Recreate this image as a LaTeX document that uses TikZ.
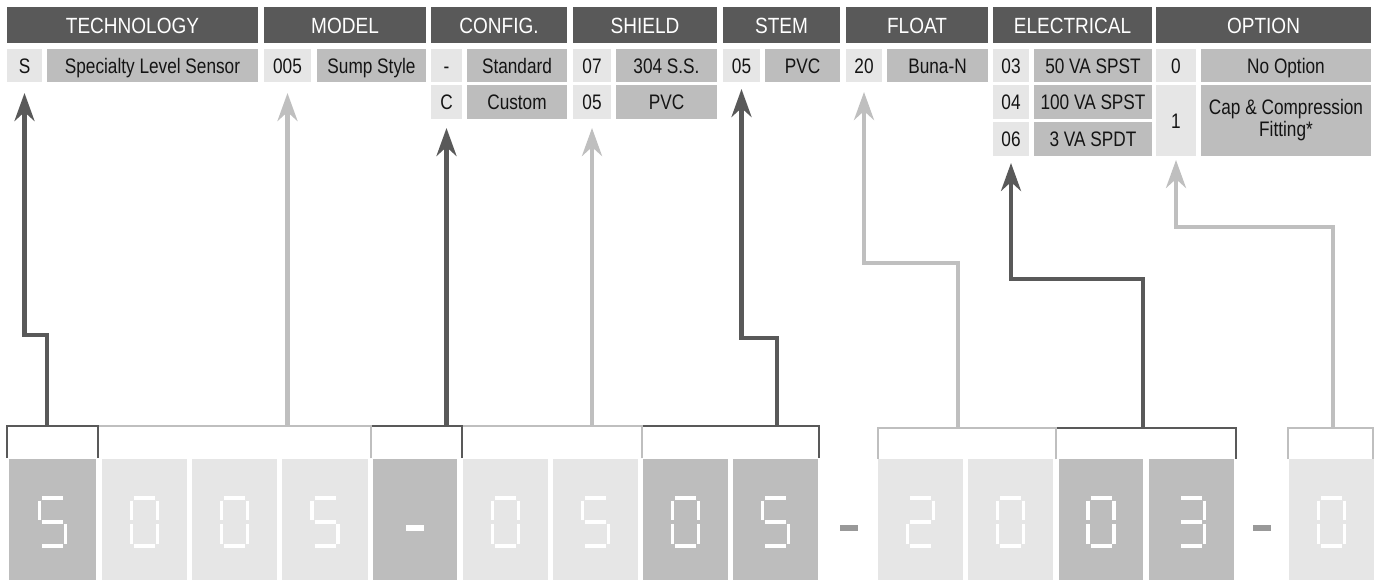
\documentclass[tikz,border=0pt]{standalone}
\usepackage{fontspec}
\setmainfont{Liberation Sans}[FakeStretch=0.82]
\newfontfamily\hdrfont{Liberation Sans}[FakeStretch=0.865]
\usetikzlibrary{arrows.meta}
\definecolor{hdr}{HTML}{595959}
\definecolor{cl}{HTML}{E6E6E6}
\definecolor{cd}{HTML}{BDBDBD}
\definecolor{ad}{HTML}{595959}
\definecolor{al}{HTML}{BFBFBF}
\definecolor{dashc}{HTML}{999999}
\definecolor{txt}{HTML}{141414}
\newcommand\cellbox[7]{\node[#6, minimum width={(#4-#2)*1pt}, minimum height={(#5-#3)*1pt}] (#1) at ({(#2+#4)/2},{(#3+#5)/2}) {#7};}
\newcommand\sgA{\draw[seg] (-10.5,-21.5) -- (10.5,-21.5);}
\newcommand\sgB{\draw[seg] (13,-19) -- (13,0.5);}
\newcommand\sgC{\draw[seg] (13,4.5) -- (13,24);}
\newcommand\sgD{\draw[seg] (-10.5,26.5) -- (10.5,26.5);}
\newcommand\sgE{\draw[seg] (-13,4.5) -- (-13,24);}
\newcommand\sgF{\draw[seg] (-13,-19) -- (-13,0.5);}
\newcommand\sgG{\draw[seg] (-10.5,2.5) -- (10.5,2.5);}
\newcommand\dgZero[1]{\begin{scope}[shift={(#1.center)}]\sgA\sgB\sgC\sgD\sgE\sgF\end{scope}}
\newcommand\dgFive[1]{\begin{scope}[shift={(#1.center)}]\sgA\sgF\sgG\sgC\sgD\end{scope}}
\newcommand\dgTwo[1]{\begin{scope}[shift={(#1.center)}]\sgA\sgB\sgG\sgE\sgD\end{scope}}
\newcommand\dgThree[1]{\begin{scope}[shift={(#1.center)}]\sgA\sgB\sgG\sgC\sgD\end{scope}}
\newcommand\dgDash[1]{\begin{scope}[shift={(#1.center)}]\fill[white] (-9,5.5) rectangle (9,11.5);\end{scope}}
\begin{document}
\begin{tikzpicture}[x=1pt,y=-1pt,
  base/.style={inner sep=0pt, outer sep=0pt, align=center, text=txt, font=\fontsize{21}{22}\selectfont},
  one/.style={text height=15pt, text depth=0pt},
  hd/.style={base, fill=hdr, text=white, font=\hdrfont\fontsize{22}{24}\selectfont, text height=16pt, text depth=0pt},
  lc/.style={base, one, fill=cl},
  dc/.style={base, one, fill=cd},
  dc2/.style={base, fill=cd},
  lc2/.style={base, fill=cl, text height=15pt, text depth=0pt},
  seg/.style={white, line width=3.4pt},
  conn/.style={line width=4.3pt, -{Stealth[length=28pt,width=20pt,inset=9pt]}},
  darkarr/.style={conn, draw=ad},
  lightarr/.style={conn, draw=al},
  brkd/.style={draw=ad, line width=2.6pt},
  brkl/.style={draw=al, line width=2.6pt}]
\useasboundingbox (0,0) rectangle (1376,581);
% headers
\cellbox{hT}{7}{7}{258}{43}{hd}{TECHNOLOGY}
\cellbox{hM}{264}{7}{426}{43}{hd}{MODEL}
\cellbox{hC}{431}{7}{567}{43}{hd}{CONFIG.}
\cellbox{hS}{573}{7}{717}{43}{hd}{SHIELD}
\cellbox{hSt}{723}{7}{840}{43}{hd}{STEM}
\cellbox{hF}{846}{7}{988}{43}{hd}{FLOAT}
\cellbox{hE}{993}{7}{1152}{43}{hd}{ELECTRICAL}
\cellbox{hO}{1156}{7}{1371}{43}{hd}{OPTION}
% row 1
\cellbox{cS}{7}{49}{42}{82}{lc}{S}
\cellbox{dS}{47}{49}{258}{82}{dc}{Specialty Level Sensor}
\cellbox{cM}{264}{49}{311}{82}{lc}{005}
\cellbox{dM}{317}{49}{426}{82}{dc}{Sump Style}
\cellbox{cC1}{431}{49}{462}{82}{lc}{-}
\cellbox{dC1}{467}{49}{567}{82}{dc}{Standard}
\cellbox{cSh1}{573}{49}{611}{82}{lc}{07}
\cellbox{dSh1}{616}{49}{717}{82}{dc}{304 S.S.}
\cellbox{cSt}{723}{49}{760}{82}{lc}{05}
\cellbox{dSt}{765}{49}{840}{82}{dc}{PVC}
\cellbox{cF}{846}{49}{882}{82}{lc}{20}
\cellbox{dF}{887}{49}{988}{82}{dc}{Buna-N}
\cellbox{cE1}{993}{49}{1029}{82}{lc}{03}
\cellbox{dE1}{1034}{49}{1152}{82}{dc}{50 VA SPST}
\cellbox{cO1}{1156}{49}{1196}{82}{lc}{0}
\cellbox{dO1}{1201}{49}{1371}{82}{dc}{No Option}
% row 2
\cellbox{cC2}{431}{85}{462}{119}{lc}{C}
\cellbox{dC2}{467}{85}{567}{119}{dc}{Custom}
\cellbox{cSh2}{573}{85}{611}{119}{lc}{05}
\cellbox{dSh2}{616}{85}{717}{119}{dc}{PVC}
\cellbox{cE2}{993}{85}{1029}{119}{lc}{04}
\cellbox{dE2}{1034}{85}{1152}{119}{dc}{100 VA SPST}
\cellbox{cO2}{1156}{85}{1196}{156}{lc2}{1}
\cellbox{dO2}{1201}{85}{1371}{156}{dc2}{Cap \& Compression\\Fitting*}
% row 3
\cellbox{cE3}{993}{122}{1029}{156}{lc}{06}
\cellbox{dE3}{1034}{122}{1152}{156}{dc}{3 VA SPDT}
% brackets (right to left so right edges show)
\draw[brkl] (1288,459) -- (1288,428) -- (1373,428) -- (1373,459);
\draw[brkd] (1056,459) -- (1056,428) -- (1236,428) -- (1236,459);
\draw[brkl] (878,459) -- (878,428) -- (1056,428) -- (1056,459);
\draw[brkd] (642,458) -- (642,426) -- (819,426) -- (819,458);
\draw[brkl] (462,458) -- (462,426) -- (642,426) -- (642,458);
\draw[brkd] (371,458) -- (371,426) -- (462,426) -- (462,458);
\draw[brkl] (98,458) -- (98,426) -- (371,426) -- (371,458);
\draw[brkd] (7,458) -- (7,426) -- (98,426) -- (98,458);
\coordinate (bS) at (47,426);
\coordinate (bM) at (287.5,426);
\coordinate (bC) at (446.5,426);
\coordinate (bSh) at (592,426);
\coordinate (bSt) at (777,426);
\coordinate (bF) at (958,428);
\coordinate (bE) at (1143,428);
\coordinate (bO) at (1333,428);
% connectors
\draw[darkarr] (bS) -- (47,335) -| ([yshift=-11pt]cS.south);
\draw[lightarr] (bM) -- ([yshift=-11pt]cM.south);
\draw[darkarr] (bC) -- ([yshift=-9pt]cC2.south);
\draw[lightarr] (bSh) -- ([yshift=-9pt]cSh2.south);
\draw[darkarr] (bSt) -- (777,338) -| ([yshift=-7pt]cSt.south);
\draw[lightarr] (bF) -- (958,263) -| ([yshift=-10pt]cF.south);
\draw[darkarr] (bE) -- (1143,279) -| ([yshift=-7pt]cE3.south);
\draw[lightarr] (bO) -- (1333,227) -| ([yshift=-4pt]cO2.south);
% digit boxes
\cellbox{g1}{9}{459}{96}{580}{dc}{}
\cellbox{g2}{102}{459}{187}{580}{lc}{}
\cellbox{g3}{192}{459}{277}{580}{lc}{}
\cellbox{g4}{282}{459}{368}{580}{lc}{}
\cellbox{g5}{373}{459}{457}{580}{dc}{}
\cellbox{g6}{463}{459}{548}{580}{lc}{}
\cellbox{g7}{553}{459}{638}{580}{lc}{}
\cellbox{g8}{643}{459}{728}{580}{dc}{}
\cellbox{g9}{733}{459}{818}{580}{dc}{}
\cellbox{g10}{878}{459}{963}{580}{lc}{}
\cellbox{g11}{968}{459}{1053}{580}{lc}{}
\cellbox{g12}{1059}{459}{1143}{580}{dc}{}
\cellbox{g13}{1149}{459}{1234}{580}{dc}{}
\cellbox{g14}{1289}{459}{1374}{580}{lc}{}
\dgFive{g1}\dgZero{g2}\dgZero{g3}\dgFive{g4}\dgDash{g5}
\dgZero{g6}\dgFive{g7}\dgZero{g8}\dgFive{g9}
\dgTwo{g10}\dgZero{g11}\dgZero{g12}\dgThree{g13}\dgZero{g14}
\fill[dashc] (840,525) rectangle (858,531);
\fill[dashc] (1253,525) rectangle (1271,531);
\end{tikzpicture}
\end{document}
